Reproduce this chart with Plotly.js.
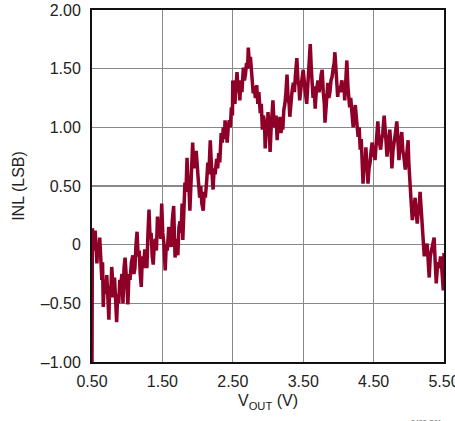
<!DOCTYPE html>
<html>
<head>
<meta charset="utf-8">
<script src="https://cdn.plot.ly/plotly-3.0.1.min.js"></script>
<style>html,body{margin:0;padding:0;background:#fff;}#chart{width:455px;height:421px;}</style>
</head>
<body>
<div id="chart"></div>
<script>
// V_OUT (V)
var vout = [
  0.5,0.505,0.515,0.525,0.535,0.545,0.555,0.57,0.58,0.595,
  0.61,0.625,0.64,0.65,0.66,0.675,0.69,0.71,0.725,0.74,
  0.75,0.765,0.78,0.795,0.81,0.82,0.835,0.85,0.865,0.88,
  0.895,0.91,0.925,0.94,0.955,0.97,0.99,1.01,1.025,1.04,
  1.06,1.08,1.095,1.11,1.125,1.14,1.155,1.17,1.185,1.2,
  1.215,1.23,1.25,1.265,1.28,1.295,1.31,1.325,1.34,1.355,
  1.37,1.385,1.4,1.415,1.43,1.445,1.46,1.475,1.49,1.505,
  1.52,1.54,1.555,1.57,1.59,1.61,1.625,1.64,1.66,1.67,
  1.68,1.7,1.72,1.735,1.75,1.765,1.78,1.79,1.805,1.82,
  1.835,1.85,1.865,1.88,1.89,1.905,1.92,1.93,1.945,1.96,
  1.98,1.995,2.01,2.03,2.045,2.06,2.08,2.095,2.11,2.13,
  2.145,2.16,2.18,2.195,2.21,2.22,2.235,2.25,2.27,2.285,
  2.3,2.315,2.335,2.35,2.365,2.38,2.39,2.405,2.42,2.435,
  2.45,2.465,2.48,2.495,2.5,2.515,2.53,2.545,2.56,2.575,
  2.59,2.6,2.615,2.63,2.65,2.665,2.68,2.695,2.71,2.72,
  2.735,2.75,2.76,2.775,2.79,2.805,2.82,2.84,2.855,2.87,
  2.89,2.905,2.92,2.935,2.95,2.96,2.975,2.99,3.0,3.015,
  3.03,3.045,3.06,3.07,3.085,3.1,3.115,3.13,3.145,3.16,
  3.17,3.185,3.2,3.21,3.225,3.24,3.255,3.27,3.285,3.3,
  3.31,3.325,3.34,3.36,3.375,3.39,3.41,3.425,3.44,3.45,
  3.465,3.48,3.5,3.515,3.53,3.55,3.565,3.58,3.6,3.615,
  3.63,3.64,3.655,3.67,3.685,3.7,3.71,3.725,3.74,3.755,
  3.77,3.785,3.8,3.81,3.825,3.84,3.85,3.865,3.88,3.895,
  3.91,3.925,3.94,3.95,3.965,3.98,3.99,4.005,4.02,4.035,
  4.05,4.065,4.08,4.09,4.105,4.12,4.135,4.15,4.16,4.175,
  4.19,4.21,4.225,4.24,4.26,4.28,4.295,4.31,4.325,4.34,
  4.35,4.365,4.38,4.39,4.405,4.42,4.435,4.45,4.465,4.48,
  4.495,4.51,4.52,4.535,4.55,4.56,4.575,4.59,4.6,4.615,
  4.63,4.65,4.665,4.68,4.69,4.705,4.72,4.73,4.745,4.76,
  4.775,4.79,4.81,4.83,4.845,4.86,4.875,4.89,4.9,4.915,
  4.93,4.95,4.965,4.98,4.99,5.0,5.01,5.02,5.035,5.05,
  5.065,5.08,5.09,5.1,5.12,5.135,5.15,5.16,5.175,5.19,
  5.205,5.22,5.235,5.25,5.26,5.275,5.29,5.305,5.32,5.33,
  5.345,5.36,5.375,5.39,5.405,5.42,5.435,5.45,5.46,5.475,
  5.49,5.5
];
// INL (LSB)
var inl = [
  -1.0,0.14,0.05,0.1,-0.05,0.12,-0.1,-0.16,0.0,-0.08,
  0.06,-0.2,-0.3,-0.15,-0.53,-0.3,-0.42,-0.26,-0.5,-0.64,
  -0.35,-0.45,-0.19,-0.4,-0.45,-0.28,-0.5,-0.66,-0.42,-0.5,
  -0.3,-0.34,-0.25,-0.5,-0.2,-0.11,-0.3,-0.51,-0.25,-0.3,
  -0.15,-0.09,-0.25,-0.2,0.0,0.11,-0.1,-0.05,-0.25,-0.36,
  -0.1,-0.2,-0.04,-0.15,-0.2,0.1,0.3,0.05,0.1,-0.1,
  -0.17,0.0,0.05,-0.05,0.24,0.1,0.15,0.05,0.35,0.1,
  0.02,-0.22,0.0,-0.05,0.15,0.11,-0.02,0.2,0.33,0.1,
  -0.11,0.05,-0.09,0.15,0.2,0.1,0.35,0.04,0.3,0.53,
  0.45,0.74,0.5,0.45,0.29,0.55,0.6,0.87,0.65,0.75,
  0.8,0.6,0.55,0.4,0.5,0.35,0.29,0.45,0.4,0.55,
  0.7,0.6,0.89,0.7,0.6,0.47,0.65,0.6,0.73,0.65,
  0.78,0.7,0.95,0.87,1.0,0.9,1.06,0.95,0.87,1.0,
  1.06,1.0,1.17,1.1,1.4,1.25,1.2,1.35,1.47,1.3,
  1.35,1.23,1.4,1.3,1.51,1.4,1.45,1.55,1.5,1.68,
  1.55,1.6,1.51,1.4,1.29,1.35,1.25,1.36,1.2,1.3,
  1.12,1.2,0.98,1.1,1.05,0.82,1.0,0.95,1.13,1.0,
  0.79,1.0,1.1,1.23,1.05,1.0,1.1,0.89,1.05,1.0,
  1.09,0.95,1.05,0.98,1.15,1.2,1.3,1.45,1.25,1.2,
  1.09,1.25,1.3,1.38,1.3,1.45,1.59,1.4,1.35,1.23,
  1.35,1.4,1.49,1.35,1.3,1.2,1.4,1.5,1.71,1.5,
  1.4,1.25,1.35,1.16,1.3,1.35,1.4,1.3,1.35,1.45,
  1.49,1.3,1.2,1.04,1.2,1.3,1.38,1.25,1.3,1.4,
  1.43,1.5,1.55,1.64,1.45,1.35,1.26,1.35,1.3,1.35,
  1.4,1.3,1.35,1.23,1.4,1.57,1.35,1.25,1.17,1.25,
  1.1,1.0,1.1,1.19,1.05,0.92,1.0,0.81,0.9,0.66,
  0.52,0.7,0.65,0.83,0.7,0.52,0.65,0.7,0.8,0.87,
  0.75,0.8,0.72,0.85,0.95,1.05,0.9,0.85,0.81,0.9,
  0.95,1.1,0.9,0.85,0.75,0.85,0.9,0.98,0.85,0.65,
  0.8,0.85,0.95,1.05,0.85,0.72,0.85,0.9,0.96,0.8,
  0.75,0.64,0.75,0.8,0.89,0.7,0.55,0.47,0.35,0.21,
  0.3,0.35,0.4,0.3,0.18,0.3,0.35,0.45,0.3,0.12,
  0.0,-0.1,0.0,-0.05,0.01,-0.15,-0.28,-0.1,-0.05,-0.02,
  0.02,0.06,-0.15,-0.33,-0.2,-0.15,-0.2,-0.1,-0.13,-0.25,
  -0.39,-0.07
];

var xTickVals = [0.5, 1.5, 2.5, 3.5, 4.5, 5.5];
var xTickText = ['0.50', '1.50', '2.50', '3.50', '4.50', '5.50'];
var yTickVals = [-1, -0.5, 0, 0.5, 1, 1.5, 2];
var yTickText = ['\u20131.00', '\u20130.50', '0', '0.50', '1.00', '1.50', '2.00'];

var font = {family: 'Liberation Sans, Arial, sans-serif', size: 16, color: '#222'};

var trace = {
  x: vout, y: inl, type: 'scatter', mode: 'lines',
  line: {color: '#8e0028', width: 3.5},
  hoverinfo: 'none', cliponaxis: true
};

var layout = {
  width: 455, height: 421,
  margin: {l: 92, r: 11, t: 10, b: 59},
  paper_bgcolor: '#fff', plot_bgcolor: '#fff',
  showlegend: false,
  font: font,
  xaxis: {
    range: [0.5, 5.5], tickvals: xTickVals, ticktext: xTickText,
    showgrid: true, gridcolor: '#888', gridwidth: 1.3,
    showline: true, linecolor: '#111', linewidth: 2, mirror: true,
    ticks: '', zeroline: false, tickfont: font, ticklabelstandoff: 4,
    ticklabeloverflow: 'allow',
    title: {text: 'V<sub>OUT</sub> (V)', font: font, standoff: 6}
  },
  yaxis: {
    range: [-1, 2], tickvals: yTickVals, ticktext: yTickText,
    showgrid: true, gridcolor: '#888', gridwidth: 1.3,
    showline: true, linecolor: '#111', linewidth: 2, mirror: true,
    ticks: '', zeroline: false, tickfont: font, ticklabelstandoff: 6,
    ticklabeloverflow: 'allow',
    title: {text: 'INL (LSB)', font: font, standoff: 12}
  },
  annotations: [{
    text: '2422 G01', xref: 'paper', yref: 'paper', x: 1, y: 0,
    xanchor: 'right', yanchor: 'top', yshift: -55, showarrow: false,
    font: {family: 'Liberation Sans, Arial, sans-serif', size: 7, color: '#666'}
  }]
};

Plotly.newPlot('chart', [trace], layout, {staticPlot: true, displayModeBar: false});
</script>
</body>
</html>
